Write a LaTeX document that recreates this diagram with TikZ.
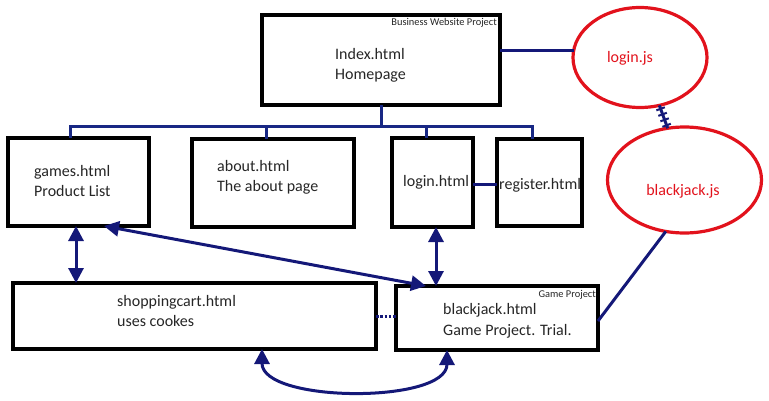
\documentclass[tikz,border=0pt]{standalone}
\usepackage{fontspec}
\setmainfont{Carlito}
\usetikzlibrary{arrows.meta,shapes.geometric,decorations.markings}
\definecolor{navy}{RGB}{20,24,120}
\definecolor{treeblue}{RGB}{24,40,132}
\definecolor{jsred}{RGB}{226,18,28}
\begin{document}
\begin{tikzpicture}[x=1pt,y=-1pt,
  page/.style={draw=black,line width=3.4pt,rectangle,inner sep=0pt,outer sep=0pt},
  script/.style={draw=jsred,line width=3.2pt,ellipse,inner sep=0pt,outer sep=0pt},
  txt/.style={font=\fontsize{16}{20}\selectfont,text=black!85,inner sep=0pt,anchor=base west,align=left},
  jstxt/.style={font=\fontsize{16}{20}\selectfont,text=jsred,inner sep=0pt,anchor=base},
  tag/.style={font=\fontsize{10.4}{12}\selectfont,text=black!85,inner sep=0pt,anchor=base east},
  tree/.style={draw=treeblue,line width=3pt},
  link/.style={draw=navy,line width=3pt},
  both/.style={link,{Triangle[length=15pt,width=15pt]}-{Triangle[length=15pt,width=15pt]}},
  hatch/.style={link,postaction={decorate,decoration={markings,
     mark=between positions 0.15 and 0.9 step 0.24 with {\draw[navy,line width=2pt] (0,-4.5pt) -- (0,4.5pt);}}}}
]
\useasboundingbox (0,0) rectangle (769,400);

% pages of the web site
\node[page,minimum width=238pt,minimum height=90pt] (idx) at (381,60) {};
\node[page,minimum width=141pt,minimum height=88pt] (games) at (78.5,182) {};
\node[page,minimum width=162pt,minimum height=88pt] (about) at (273,183) {};
\node[page,minimum width=81pt,minimum height=89pt] (login) at (432.5,182.5) {};
\node[page,minimum width=85pt,minimum height=87pt] (reg) at (539.5,182.5) {};
\node[page,minimum width=363pt,minimum height=66pt] (cart) at (194.5,316) {};
\node[page,minimum width=202pt,minimum height=64pt] (bj) at (497,318) {};

% script files
\node[script,minimum width=134pt,minimum height=100pt] (ljs) at (640,57.5) {};
\node[script,minimum width=154pt,minimum height=106pt] (bjs) at (684.5,180) {};

% labels (a two-line label sits on the baseline of its last line)
\node[txt] (idxt) at (335,79) {Index.html\\Homepage};
\node[tag] (idxtag) at (497,25) {Business Website Project};
\node[txt] (gamest) at (34,196) {games.html\\Product List};
\node[txt] (aboutt) at (217,191) {about.html\\The about page};
\node[txt] (logint) at (403,186) {login.html};
\node[txt] (regt) at (499,189) {register.html};
\node[txt] (cartt) at (117,326) {shoppingcart.html\\uses cookes};
\node[txt,font=\fontsize{16}{21}\selectfont] (bjt) at (443,335) {blackjack.html\\Game Project. Trial.};
\node[tag] (bjtag) at (596,297) {Game Project};
\node[jstxt] (ljst) at (630,62) {login.js};
\node[jstxt] (bjst) at (683,195) {blackjack.js};

% site tree
\coordinate (bar) at (0,126);
\coordinate (gx) at (70,0);
\coordinate (ax) at (266,0);
\coordinate (lx) at (426,0);
\coordinate (rx) at (532,0);
\draw[tree] (games.north -| gx) |- (bar -| rx) -- (reg.north -| rx);
\draw[tree] (idx.south) -- (idx.south |- bar);
\draw[tree] (about.north -| ax) -- (bar -| ax);
\draw[tree] (login.north -| lx) -- (bar -| lx);
\draw[link] (login.east |- regt.center) -- (reg.west |- regt.center);

% navigation links
\coordinate (cx) at (76,0);
\coordinate (vx) at (436,0);
\coordinate (gd) at (104,0);
\coordinate (bd) at (426,0);
\draw[both] (games.south -| cx) -- (cart.north -| cx);
\draw[both] (games.south -| gd) -- (bj.north -| bd);
\draw[both] (login.south -| vx) -- (bj.north -| vx);
\coordinate (ca) at (262,0);
\coordinate (ba) at (447,0);
\draw[both] (cart.south -| ca) .. controls ([yshift=-54pt]cart.south -| ca) and ([yshift=-54pt]bj.south -| ba) .. (bj.south -| ba);
\draw[link,dash pattern=on 2.5pt off 1.8pt] (cart.east) -- (bj.west |- cart.east);

% script links
\draw[link] (ljs.174) -- (ljs.174 -| idx.east);
\draw[hatch] (ljs.-68) -- (bjs.108);
\draw[link] (bjs.-110) -- ([yshift=-3pt]bj.east);
\end{tikzpicture}
\end{document}
